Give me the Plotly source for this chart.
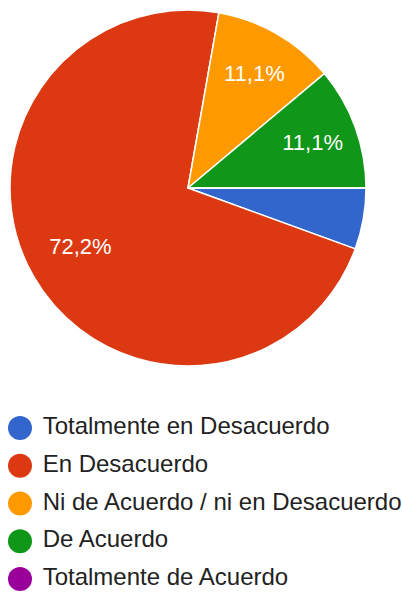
import plotly.graph_objects as go

categories = ["Totalmente en Desacuerdo", "En Desacuerdo", "Ni de Acuerdo / ni en Desacuerdo",
              "De Acuerdo", "Totalmente de Acuerdo"]
values = [1, 13, 2, 2, 0]
slice_labels = ["", "\u00a0<br>72,2%" + "\u00a0" * 10, "11,1%", "11,1%", ""]
colors = ["#3366cc", "#dc3912", "#ff9900", "#109618", "#990099"]

W, H = 402, 592
fig = go.Figure()
fig.add_trace(go.Pie(
    labels=categories, values=values, sort=False, direction="clockwise", rotation=90,
    marker=dict(colors=colors, line=dict(color="white", width=1.5)),
    text=slice_labels, textinfo="text", textposition="inside",
    insidetextorientation="horizontal",
    textfont=dict(color="white", size=22, family="Arial, Liberation Sans"),
    domain=dict(x=[10 / W, 366 / W], y=[(H - 366) / H, (H - 10) / H]),
    showlegend=False, hoverinfo="skip",
))
rows = list(range(len(categories)))
fig.add_trace(go.Scatter(
    x=[20] * len(categories), y=rows, mode="markers+text",
    marker=dict(size=24, color=colors),
    text=["\u00a0" + c for c in categories], textposition="middle right",
    textfont=dict(size=24, color="#222222", family="Arial, Liberation Sans"),
    showlegend=False, hoverinfo="skip", cliponaxis=False,
))
fig.update_layout(
    width=W, height=H, margin=dict(l=0, r=0, t=0, b=0),
    paper_bgcolor="white", plot_bgcolor="rgba(0,0,0,0)",
    xaxis=dict(range=[0, W], visible=False, domain=[0, 1], fixedrange=True),
    yaxis=dict(range=[4.344, -0.953], visible=False, domain=[0, 200 / H], fixedrange=True),
)
fig.write_html("out.html", config={"displayModeBar": False},
               post_script="document.body.style.margin='0px';")
